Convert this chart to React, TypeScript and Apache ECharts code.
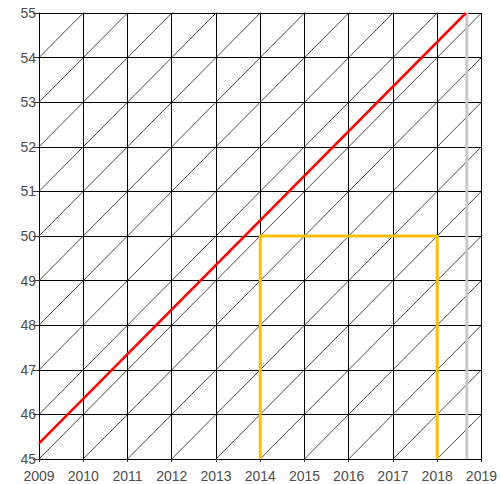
import React, { useEffect, useRef } from "react";
import * as echarts from "echarts";

const years = [2009, 2010, 2011, 2012, 2013, 2014, 2015, 2016, 2017, 2018, 2019];
const ages = [45, 46, 47, 48, 49, 50, 51, 52, 53, 54, 55];
const diagonalOffsets = [-10, -9, -8, -7, -6, -5, -4, -3, -2, -1, 0, 1, 2, 3, 4, 5, 6, 7, 8, 9, 10];
const lifeLine: [number, number][] = [[2009, 45.35], [2018.65, 55]];
const observationLine: [number, number][] = [[2018.67, 45], [2018.67, 55]];
const boxLine: [number, number][] = [[2014, 45], [2014, 50], [2018, 50], [2018, 45]];

export default function App() {
  const ref = useRef<HTMLDivElement>(null);
  useEffect(() => {
    if (!ref.current) return;
    const chart = echarts.init(ref.current, null, { renderer: "svg" });
    const x0 = years[0], x1 = years[years.length - 1];
    const y0 = ages[0], y1 = ages[ages.length - 1];
    const diagSeries = diagonalOffsets.map((k) => ({
      type: "line",
      data: [[x0, y0 + k], [x1, y1 + k]],
      symbol: "none",
      clip: true,
      silent: true,
      lineStyle: { color: "#1a1a1a", width: 0.8 },
      z: 1,
    }));
    const font = "Arial, 'Liberation Sans', sans-serif";
    chart.setOption({
      animation: false,
      grid: { left: 39, right: 17, top: 13, bottom: 25, containLabel: false },
      xAxis: {
        type: "value", min: x0, max: x1, interval: 1,
        axisLine: { show: false },
        axisTick: { show: true, length: 3, lineStyle: { color: "#333" } },
        axisLabel: { color: "#4d4d4d", fontSize: 14, fontFamily: font, margin: 10, formatter: (v: number) => String(v) },
        splitLine: { show: true, lineStyle: { color: "#000", width: 1 } },
      },
      yAxis: {
        type: "value", min: y0, max: y1, interval: 1,
        axisLine: { show: false },
        axisTick: { show: true, length: 6, lineStyle: { color: "#333" } },
        axisLabel: { color: "#4d4d4d", fontSize: 14, fontFamily: font, margin: 3 },
        splitLine: { show: true, lineStyle: { color: "#000", width: 1 } },
      },
      series: [
        ...diagSeries,
        {
          type: "line", data: boxLine, symbol: "none", clip: false,
          lineStyle: { color: "#FFC000", width: 3 }, z: 3,
        },
        {
          type: "line", data: observationLine, symbol: "none",
          lineStyle: { color: "#C8C8C8", width: 3 }, z: 3,
        },
        {
          type: "line", data: lifeLine, symbol: "none",
          lineStyle: { color: "#FF0000", width: 2.5 }, z: 4,
        },
      ],
    });
    return () => chart.dispose();
  }, []);
  return <div ref={ref} style={{ width: 500, height: 484, position: "absolute", left: 0, top: 0 }} />;
}
